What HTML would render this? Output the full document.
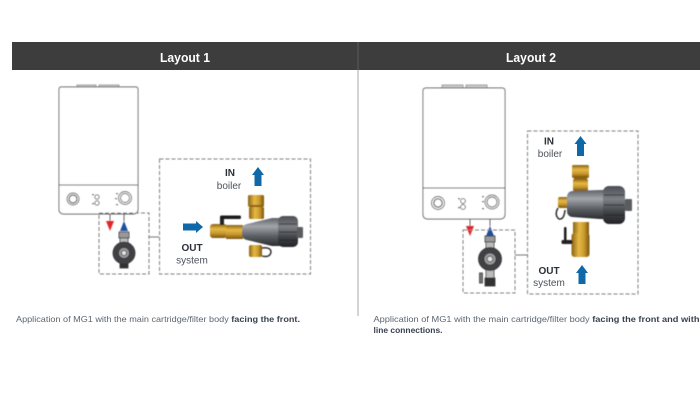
<!DOCTYPE html>
<html><head><meta charset="utf-8"><style>
html,body{margin:0;padding:0;background:#fff}
svg{display:block;font-family:"Liberation Sans",sans-serif}
</style></head><body>
<svg width="700" height="400" viewBox="0 0 700 400" xmlns="http://www.w3.org/2000/svg">
<defs>
<linearGradient id="brass" x1="0" y1="0" x2="0" y2="1"><stop offset="0" stop-color="#8a6214"/><stop offset=".35" stop-color="#e6b844"/><stop offset=".65" stop-color="#c99a2e"/><stop offset="1" stop-color="#7a5410"/></linearGradient>
<linearGradient id="brassH" x1="0" y1="0" x2="1" y2="0"><stop offset="0" stop-color="#8a6214"/><stop offset=".4" stop-color="#e6b844"/><stop offset=".7" stop-color="#c99a2e"/><stop offset="1" stop-color="#7a5410"/></linearGradient>
<linearGradient id="body" x1="0" y1="0" x2="0" y2="1"><stop offset="0" stop-color="#5d6166"/><stop offset=".3" stop-color="#a3a6aa"/><stop offset=".65" stop-color="#5b5f64"/><stop offset="1" stop-color="#2b2d30"/></linearGradient>
<linearGradient id="cap" x1="0" y1="0" x2="0" y2="1"><stop offset="0" stop-color="#4a4d52"/><stop offset=".35" stop-color="#7d8084"/><stop offset=".7" stop-color="#3e4145"/><stop offset="1" stop-color="#232427"/></linearGradient>
<filter id="b" x="-5%" y="-5%" width="110%" height="110%"><feGaussianBlur stdDeviation="0.4"/></filter>
</defs>

<rect x="12" y="42" width="688" height="28" fill="#3d3d3d"/>
<line x1="358" y1="42" x2="358" y2="70" stroke="#5c5c5c" stroke-width="1"/>
<line x1="358" y1="70" x2="358" y2="316" stroke="#aaaaaa" stroke-width="1"/>
<text x="185" y="62" font-size="13" font-weight="700" fill="#fff" text-anchor="middle" textLength="50" lengthAdjust="spacingAndGlyphs">Layout 1</text>
<text x="531" y="62" font-size="13" font-weight="700" fill="#fff" text-anchor="middle" textLength="50" lengthAdjust="spacingAndGlyphs">Layout 2</text>

<g filter="url(#b)">
<!-- Boiler 1 -->
<g fill="none" stroke="#555" stroke-width="0.9">
<rect x="77" y="85" width="19" height="3" fill="#c9c9c9" stroke="#999"/>
<rect x="99" y="85" width="20" height="3" fill="#c9c9c9" stroke="#999"/>
<path d="M61 87H136Q138 87 138 90V209Q138 214 133 214H64Q59 214 59 209V90Q59 87 61 87Z" fill="#fff"/>
<line x1="59" y1="185" x2="138" y2="185"/>
<circle cx="73" cy="199" r="6"/><circle cx="73" cy="199" r="4" stroke-width="1.200"/>
<circle cx="125" cy="198" r="6.500"/><circle cx="125" cy="198" r="4.500"/>
<circle cx="97" cy="197" r="2.200"/><circle cx="97" cy="203" r="2.200"/>
</g>
<g fill="#333"><rect x="92" y="194" width="2" height="1.200"/><rect x="92" y="203" width="2" height="1.200"/><rect x="116" y="193" width="2" height="1.200"/><rect x="115" y="198" width="2" height="1.200"/><rect x="116" y="204" width="2" height="1.200"/></g>
<g stroke="#666" stroke-width="1"><line x1="110" y1="214" x2="110" y2="221"/><line x1="124" y1="214" x2="124" y2="221"/></g>
<path d="M106 221H114L110 231Z" fill="#e0262b"/>
<path d="M124 221L128 231H120Z" fill="#1f4fa3"/>
<!-- mini valve 1 -->
<g stroke="#333" stroke-width="0.8">
<rect x="119" y="232" width="10" height="6" fill="#999"/>
<rect x="120" y="238" width="8" height="5" fill="#bbb"/>
<rect x="120" y="263" width="8" height="5" fill="#333"/>
<circle cx="124" cy="253" r="11" fill="#3f4144"/>
<circle cx="124" cy="253" r="5.500" fill="#9a9a9a"/>
<circle cx="124" cy="253" r="2.500" fill="#e4e4e4"/>
</g>
<!-- dashed boxes 1 -->
<g fill="none" stroke="#808080" stroke-width="1" stroke-dasharray="4 2">
<rect x="99" y="213" width="50" height="61"/>
<rect x="159.500" y="159" width="151" height="115"/>
</g>
<line x1="149" y1="237" x2="159" y2="237" stroke="#555" stroke-width="0.8"/>

<!-- Big valve 1 -->
<rect x="248" y="195" width="16" height="12" rx="1.500" fill="url(#brassH)"/>
<rect x="250" y="205" width="12" height="3" fill="#8a6214"/>
<rect x="249" y="207" width="15" height="12" rx="1.500" fill="url(#brassH)"/>
<rect x="249" y="245" width="13" height="12" rx="2" fill="url(#brassH)"/>
<path d="M262 248Q271 247 271 252Q270 258 262 256" fill="none" stroke="#222" stroke-width="1.400"/>
<rect x="210" y="224" width="17" height="14" rx="3" fill="url(#brass)"/>
<rect x="226" y="225" width="17" height="14" fill="url(#brass)"/>
<rect x="220" y="218" width="4" height="7" fill="#222"/>
<rect x="220" y="215.500" width="21" height="3.500" rx="1.500" fill="#1c1c1c"/>
<path d="M247 224L272 218H282V246H272L247 240Q242 239 242 234V230Q242 225 247 224Z" fill="url(#body)"/>
<rect x="278" y="216" width="20" height="31" rx="5" fill="url(#cap)"/>
<g stroke="#222" stroke-width="0.8"><line x1="279" y1="224" x2="297" y2="224"/><line x1="279" y1="232" x2="297" y2="232"/><line x1="279" y1="240" x2="297" y2="240"/></g>
<rect x="297" y="227" width="6" height="11" rx="1" fill="#5a5d61"/>
</g>

<path d="M183 223.500H196V221L203 227L196 233V230.500H183Z" fill="#0f69a8"/>
<path d="M258 167L264 175H261.500V186H254.500V175H252Z" fill="#0f69a8"/>
<g text-anchor="middle" font-size="10">
<text x="230" y="176" font-weight="700" fill="#2b3038">IN</text>
<text x="229" y="189" fill="#4a525c">boiler</text>
<text x="192" y="251" font-weight="700" fill="#2b3038">OUT</text>
<text x="192" y="263.500" fill="#4a525c">system</text>
</g>

<g filter="url(#b)">
<!-- Boiler 2 -->
<g fill="none" stroke="#555" stroke-width="0.9">
<rect x="442" y="85" width="21" height="3" fill="#c9c9c9" stroke="#999"/>
<rect x="466" y="85" width="21" height="3" fill="#c9c9c9" stroke="#999"/>
<path d="M426 88H502Q505 88 505 91V214Q505 219 500 219H428Q423 219 423 214V91Q423 88 426 88Z" fill="#fff"/>
<line x1="423" y1="188" x2="505" y2="188"/>
<circle cx="438" cy="203" r="6.500"/><circle cx="438" cy="203" r="4.200" stroke-width="1.200"/>
<circle cx="492" cy="202" r="7"/><circle cx="492" cy="202" r="5"/>
<circle cx="463" cy="201" r="2.400"/><circle cx="463" cy="207" r="2.400"/>
</g>
<g fill="#333"><rect x="458" y="198" width="2" height="1.200"/><rect x="458" y="207" width="2" height="1.200"/><rect x="482" y="196" width="2" height="1.200"/><rect x="482" y="201" width="2" height="1.200"/><rect x="482" y="208" width="2" height="1.200"/></g>
<g stroke="#666" stroke-width="1"><line x1="470" y1="219" x2="470" y2="226"/><line x1="490" y1="219" x2="490" y2="226"/></g>
<path d="M466 226H474L470 236Z" fill="#e0262b"/>
<path d="M490 226L494 236H486Z" fill="#1f4fa3"/>
<!-- mini valve 2 -->
<g stroke="#333" stroke-width="0.8">
<rect x="485" y="236" width="10" height="6" fill="#999"/>
<rect x="486" y="242" width="8" height="6" fill="#bbb"/>
<rect x="486" y="270" width="8" height="8" fill="#bbb"/>
<rect x="485" y="278" width="10" height="8" fill="#333"/>
<rect x="479.500" y="273" width="3" height="10" fill="#777"/>
<circle cx="490" cy="259" r="11.500" fill="#3f4144"/>
<circle cx="490" cy="259" r="6" fill="#9a9a9a"/>
<circle cx="490" cy="259" r="2.800" fill="#e4e4e4"/>
</g>
<g fill="none" stroke="#808080" stroke-width="1" stroke-dasharray="4 2">
<rect x="463" y="230" width="52" height="63"/>
<rect x="527.500" y="131" width="110.500" height="163"/>
</g>
<line x1="515" y1="255" x2="527" y2="255" stroke="#555" stroke-width="0.8"/>

<!-- Big valve 2 -->
<rect x="572" y="165" width="17" height="13" rx="1.500" fill="url(#brass)"/>
<rect x="574" y="176" width="13" height="3" fill="#8a6214"/>
<rect x="573" y="179" width="15" height="12" rx="1.500" fill="url(#brass)"/>
<rect x="558" y="197" width="11" height="11" rx="2" fill="url(#brass)"/>
<path d="M558 208Q554 215 559 219Q564 220 565 210" fill="none" stroke="#222" stroke-width="1.400"/>
<rect x="573" y="222" width="16" height="12" fill="url(#brassH)"/>
<rect x="571.500" y="233" width="18" height="24" rx="3" fill="url(#brassH)"/>
<rect x="564" y="227" width="2.500" height="16" rx="1" fill="#1c1c1c"/>
<rect x="561.500" y="240" width="11" height="4" rx="1.500" fill="#222"/>
<path d="M572 191L600 190H608V219H600L572 217Q567 216 567 211V197Q567 192 572 191Z" fill="url(#body)"/>
<rect x="603" y="186" width="22" height="38" rx="6" fill="url(#cap)"/>
<g stroke="#222" stroke-width="0.8"><line x1="604" y1="195" x2="624" y2="195"/><line x1="604" y1="205" x2="624" y2="205"/><line x1="604" y1="215" x2="624" y2="215"/></g>
<rect x="625" y="199" width="7" height="12" rx="1" fill="#5a5d61"/>
</g>

<path d="M580.500 136L586.500 144H584V156H577V144H574.500Z" fill="#0f69a8"/>
<path d="M582 265L588 273H585.500V284H578.500V273H576Z" fill="#0f69a8"/>
<g text-anchor="middle" font-size="10">
<text x="549" y="144.500" font-weight="700" fill="#2b3038">IN</text>
<text x="550" y="157" fill="#4a525c">boiler</text>
<text x="549" y="274" font-weight="700" fill="#2b3038">OUT</text>
<text x="549" y="286" fill="#4a525c">system</text>
</g>

<g font-size="8.500" fill="#5b6670">
<text x="16" y="322" textLength="284" lengthAdjust="spacingAndGlyphs">Application of MG1 with the main cartridge/filter body <tspan font-weight="700" fill="#38424e">facing the front.</tspan></text>
<text x="373.500" y="322" textLength="326" lengthAdjust="spacingAndGlyphs">Application of MG1 with the main cartridge/filter body <tspan font-weight="700" fill="#38424e">facing the front and with</tspan></text>
<text x="373.500" y="333" font-weight="700" fill="#38424e" textLength="69" lengthAdjust="spacingAndGlyphs">line connections.</text>
</g>
</svg>
</body></html>
